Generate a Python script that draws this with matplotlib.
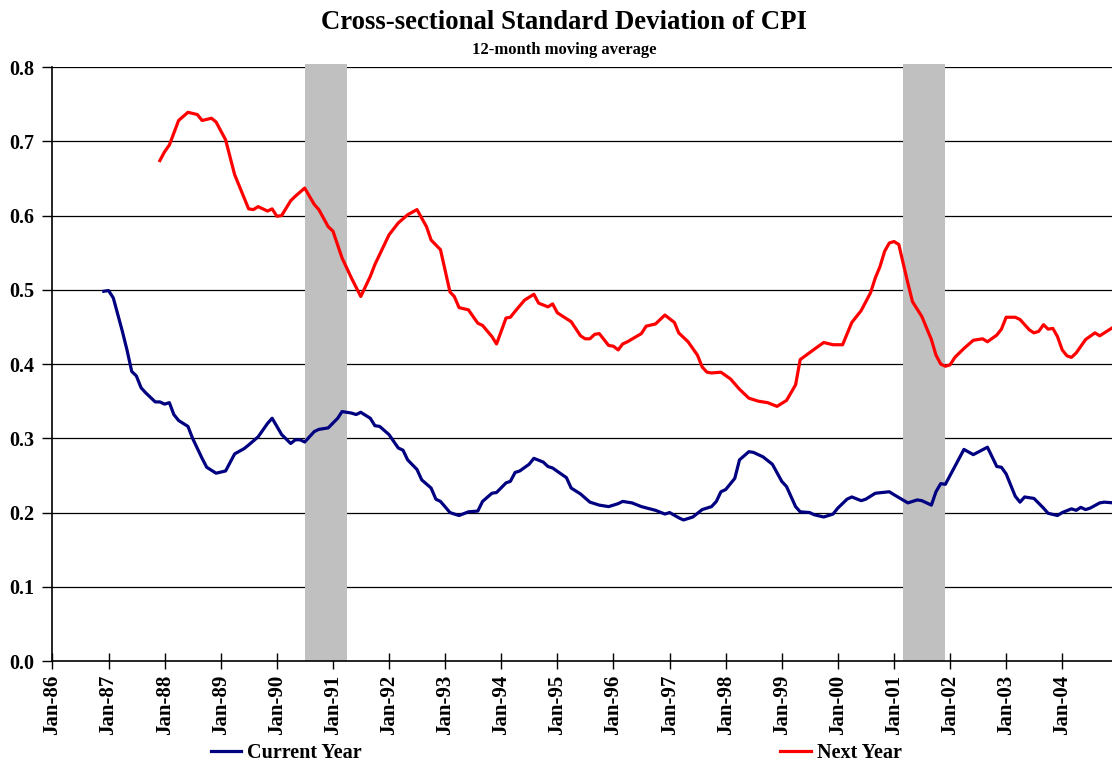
import pandas as pd
import matplotlib
matplotlib.use("Agg")
import matplotlib.pyplot as plt

plt.rcParams["font.family"] = ["Liberation Serif", "DejaVu Serif"]
plt.rcParams["font.weight"] = "bold"

# Current Year (12-month moving average of cross-sectional std of CPI forecasts)
cur_months = [
    "1986-12", "1987-01", "1987-02", "1987-04", "1987-05", "1987-06", "1987-07",
    "1987-08", "1987-09", "1987-11", "1987-12", "1988-01", "1988-02", "1988-03",
    "1988-04", "1988-06", "1988-07", "1988-09", "1988-10", "1988-12", "1989-02",
    "1989-04", "1989-06", "1989-07", "1989-09", "1989-11", "1989-12", "1990-02",
    "1990-04", "1990-05", "1990-06", "1990-07", "1990-09", "1990-10", "1990-12",
    "1991-02", "1991-03", "1991-05", "1991-06", "1991-07", "1991-09", "1991-10",
    "1991-11", "1992-01", "1992-03", "1992-04", "1992-05", "1992-07", "1992-08",
    "1992-10", "1992-11", "1992-12", "1993-02", "1993-03", "1993-04", "1993-06",
    "1993-08", "1993-09", "1993-11", "1993-12", "1994-02", "1994-03", "1994-04",
    "1994-05", "1994-07", "1994-08", "1994-10", "1994-11", "1994-12", "1995-02",
    "1995-03", "1995-04", "1995-06", "1995-08", "1995-10", "1995-12", "1996-02",
    "1996-03", "1996-05", "1996-07", "1996-10", "1996-12", "1997-01", "1997-03",
    "1997-04", "1997-06", "1997-08", "1997-10", "1997-11", "1997-12", "1998-01",
    "1998-03", "1998-04", "1998-06", "1998-07", "1998-09", "1998-11", "1999-01",
    "1999-02", "1999-04", "1999-05", "1999-07", "1999-08", "1999-10", "1999-12",
    "2000-01", "2000-03", "2000-04", "2000-06", "2000-07", "2000-09", "2000-12",
    "2001-01", "2001-04", "2001-06", "2001-07", "2001-09", "2001-10", "2001-11",
    "2001-12", "2002-02", "2002-04", "2002-06", "2002-09", "2002-11", "2002-12",
    "2003-01", "2003-03", "2003-04", "2003-05", "2003-07", "2003-09", "2003-10",
    "2003-12", "2004-01", "2004-03", "2004-04", "2004-05", "2004-06", "2004-07",
    "2004-09", "2004-10", "2004-12",
]
cur_values = [
    0.498, 0.499, 0.489, 0.444, 0.419, 0.390, 0.384,
    0.368, 0.361, 0.349, 0.349, 0.346, 0.348, 0.332,
    0.324, 0.316, 0.300, 0.273, 0.261, 0.253, 0.256,
    0.279, 0.286, 0.291, 0.302, 0.320, 0.327, 0.305,
    0.293, 0.298, 0.298, 0.295, 0.309, 0.312, 0.314,
    0.327, 0.336, 0.334, 0.332, 0.335, 0.327, 0.317,
    0.316, 0.305, 0.287, 0.284, 0.271, 0.258, 0.244,
    0.233, 0.218, 0.215, 0.200, 0.198, 0.196, 0.201,
    0.202, 0.215, 0.226, 0.227, 0.240, 0.242, 0.254,
    0.256, 0.265, 0.273, 0.268, 0.262, 0.260, 0.251,
    0.247, 0.233, 0.225, 0.214, 0.210, 0.208, 0.212,
    0.215, 0.213, 0.208, 0.203, 0.198, 0.200, 0.193,
    0.190, 0.194, 0.204, 0.208, 0.215, 0.228, 0.231,
    0.246, 0.271, 0.282, 0.281, 0.275, 0.265, 0.242,
    0.235, 0.208, 0.201, 0.200, 0.197, 0.194, 0.198,
    0.206, 0.218, 0.221, 0.216, 0.218, 0.226, 0.228,
    0.224, 0.213, 0.217, 0.216, 0.210, 0.228, 0.239,
    0.238, 0.262, 0.285, 0.278, 0.288, 0.262, 0.261,
    0.252, 0.222, 0.214, 0.221, 0.219, 0.206, 0.199,
    0.196, 0.200, 0.205, 0.203, 0.207, 0.204, 0.206,
    0.213, 0.214, 0.213,
]

# Next Year
nxt_months = [
    "1987-12", "1988-01", "1988-02", "1988-04", "1988-06", "1988-08", "1988-09",
    "1988-11", "1988-12", "1989-02", "1989-04", "1989-07", "1989-08", "1989-09",
    "1989-11", "1989-12", "1990-01", "1990-02", "1990-04", "1990-05", "1990-07",
    "1990-09", "1990-10", "1990-12", "1991-01", "1991-03", "1991-05", "1991-07",
    "1991-09", "1991-10", "1992-01", "1992-03", "1992-05", "1992-07", "1992-09",
    "1992-10", "1992-12", "1993-02", "1993-03", "1993-04", "1993-06", "1993-08",
    "1993-09", "1993-11", "1993-12", "1994-02", "1994-03", "1994-04", "1994-06",
    "1994-08", "1994-09", "1994-11", "1994-12", "1995-01", "1995-04", "1995-06",
    "1995-07", "1995-08", "1995-09", "1995-10", "1995-12", "1996-01", "1996-02",
    "1996-03", "1996-04", "1996-07", "1996-08", "1996-10", "1996-12", "1997-02",
    "1997-03", "1997-05", "1997-07", "1997-08", "1997-09", "1997-10", "1997-12",
    "1998-02", "1998-04", "1998-06", "1998-08", "1998-10", "1998-12", "1999-02",
    "1999-04", "1999-05", "1999-08", "1999-10", "1999-12", "2000-02", "2000-04",
    "2000-06", "2000-08", "2000-09", "2000-10", "2000-11", "2000-12", "2001-01",
    "2001-02", "2001-03", "2001-04", "2001-05", "2001-07", "2001-09", "2001-10",
    "2001-11", "2001-12", "2002-01", "2002-02", "2002-04", "2002-06", "2002-08",
    "2002-09", "2002-11", "2002-12", "2003-01", "2003-03", "2003-04", "2003-06",
    "2003-07", "2003-08", "2003-09", "2003-10", "2003-11", "2003-12", "2004-01",
    "2004-02", "2004-03", "2004-04", "2004-06", "2004-08", "2004-09", "2004-12",
]
nxt_values = [
    0.674, 0.686, 0.695, 0.728, 0.739, 0.736, 0.728,
    0.731, 0.726, 0.702, 0.655, 0.609, 0.608, 0.612,
    0.606, 0.609, 0.599, 0.600, 0.620, 0.626, 0.637,
    0.615, 0.608, 0.585, 0.579, 0.543, 0.516, 0.491,
    0.518, 0.534, 0.574, 0.590, 0.601, 0.608, 0.585,
    0.567, 0.554, 0.497, 0.491, 0.476, 0.473, 0.455,
    0.452, 0.437, 0.427, 0.462, 0.463, 0.471, 0.486,
    0.494, 0.482, 0.477, 0.481, 0.469, 0.457, 0.438,
    0.434, 0.434, 0.440, 0.441, 0.425, 0.424, 0.419,
    0.427, 0.430, 0.441, 0.451, 0.454, 0.466, 0.456,
    0.442, 0.430, 0.412, 0.396, 0.389, 0.388, 0.389,
    0.380, 0.366, 0.354, 0.350, 0.348, 0.343, 0.351,
    0.372, 0.406, 0.420, 0.429, 0.426, 0.426, 0.456,
    0.472, 0.496, 0.516, 0.531, 0.552, 0.563, 0.565,
    0.561, 0.536, 0.509, 0.484, 0.464, 0.433, 0.412,
    0.400, 0.397, 0.399, 0.409, 0.421, 0.432, 0.434,
    0.430, 0.439, 0.447, 0.463, 0.463, 0.460, 0.446,
    0.442, 0.444, 0.453, 0.447, 0.448, 0.437, 0.419,
    0.411, 0.409, 0.415, 0.433, 0.442, 0.438, 0.450,
]

# recession bands (NBER)
rec_start = ["1990-07", "2001-03"]
rec_end = ["1991-04", "2001-12"]

tick_years = list(range(1986, 2005))
tick_labels = ["Jan-%02d" % (y % 100) for y in tick_years]

cur_dates = pd.to_datetime(cur_months, format="%Y-%m")
nxt_dates = pd.to_datetime(nxt_months, format="%Y-%m")

fig = plt.figure(figsize=(11.12, 7.66), dpi=100)
ax = fig.add_axes([0.0472, 0.137, 0.9528, 0.7755])

for s, e in zip(rec_start, rec_end):
    ax.fill_between(pd.to_datetime([s, e], format="%Y-%m"), 0, 0.804,
                    color="#C0C0C0", lw=0, zorder=2, clip_on=False)

for v in [0.1, 0.2, 0.3, 0.4, 0.5, 0.6, 0.7, 0.8]:
    ax.axhline(v, color="black", lw=0.9, zorder=1)

ax.plot(cur_dates, cur_values, color="#000080", lw=2.3, zorder=3,
        label="Current Year")
ax.plot(nxt_dates, nxt_values, color="#FF0000", lw=2.3, zorder=3,
        label="Next Year")

ax.set_ylim(0, 0.8)
ax.set_xlim(pd.Timestamp("1986-01-01"), pd.Timestamp("2004-11-20"))
ax.set_yticks([i / 10 for i in range(9)])
ax.set_yticklabels(["%.1f" % (i / 10) for i in range(9)], fontsize=14.5,
                   fontweight="bold")
ax.set_xticks(pd.to_datetime(["%d-01-01" % y for y in tick_years]))
ax.set_xticklabels(tick_labels, rotation=90, fontsize=15, fontweight="bold")
ax.tick_params(axis="x", direction="inout", length=12, width=1, pad=4)
ax.tick_params(axis="y", direction="out", length=7, width=1, pad=6)

for side in ["top", "right"]:
    ax.spines[side].set_visible(False)
ax.spines["left"].set_linewidth(1.2)
ax.spines["bottom"].set_linewidth(1.2)
ax.spines["left"].set_zorder(4)
ax.spines["bottom"].set_zorder(4)

fig.text(0.507, 0.970, "Cross-sectional Standard Deviation of CPI",
         ha="center", va="center", fontsize=19.3, fontweight="bold")
fig.text(0.5075, 0.935, "12-month moving average", ha="center", va="center",
         fontsize=12, fontweight="bold")

fig.legend(loc="center", bbox_to_anchor=(0.5, 0.017), ncol=2, frameon=False,
           fontsize=14.5, handlelength=1.5, handletextpad=0.3,
           columnspacing=20.8, borderpad=0)

fig.savefig("out.png", dpi=100)
